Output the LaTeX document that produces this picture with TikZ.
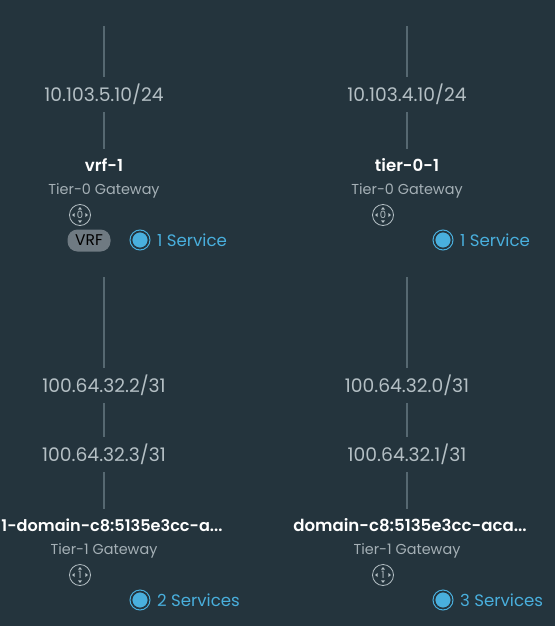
\documentclass[tikz,border=0pt]{standalone}
\usepackage{fontspec}
\setmainfont{Poppins}[BoldFont={Poppins SemiBold}]
\definecolor{bgdark}{HTML}{24343D}
\definecolor{linegray}{HTML}{566871}
\definecolor{textgray}{HTML}{B4BFC4}
\definecolor{subgray}{HTML}{A5B0B6}
\definecolor{svcblue}{HTML}{49AFDD}
\definecolor{badgegray}{HTML}{6F7A82}
\tikzset{
    link/.style={draw=linegray, line width=1.5pt},
    ipnode/.style={inner sep=0pt, minimum height=35pt, text=textgray, font=\fontsize{18.7}{20}\selectfont},
    namenode/.style={inner sep=0pt, minimum height=32pt, text=white, font=\fontsize{16.6}{18}\selectfont\bfseries},
    typenode/.style={inner sep=0pt, text=subgray, font=\fontsize{14.4}{16}\selectfont},
    iconnode/.style={circle, draw=textgray, line width=0.8pt, minimum size=21pt, inner sep=0pt, text=textgray, font=\fontsize{10}{10}\selectfont},
    dotnode/.style={circle, fill=svcblue, draw=bgdark, line width=1.2pt, minimum size=16.5pt, inner sep=0pt},
    ringnode/.style={circle, draw=svcblue, line width=1pt, minimum size=20pt, inner sep=0pt},
    svcnode/.style={inner sep=0pt, anchor=west, text=svcblue, font=\fontsize{16.6}{18}\selectfont},
    badgenode/.style={rounded corners=10pt, fill=badgegray, text=black, minimum width=43pt, minimum height=22pt, inner sep=0pt, font=\fontsize{15.5}{16}\selectfont},
    tick/.style={fill=textgray, draw=none}
}
% small arrows round the gateway icon
\newcommand{\iconticks}[1]{
    \fill[tick] (#1.north)++(0,3) -- ++(-2,2.5) -- ++(4,0) -- cycle;
    \fill[tick] (#1.south)++(0,-3) -- ++(-2,-2.5) -- ++(4,0) -- cycle;
    \fill[tick] (#1.west)++(3,0) -- ++(2.5,-2) -- ++(0,4) -- cycle;
    \fill[tick] (#1.east)++(-3,0) -- ++(-2.5,-2) -- ++(0,4) -- cycle;
}
\begin{document}
\begin{tikzpicture}[x=1pt, y=-1pt]
    \useasboundingbox[fill=bgdark] (0,0) rectangle (555,626);

    % left column, upper gateway
    \coordinate (topa) at (104,26);
    \node[ipnode] (ipa) at (104,94.5) {10.103.5.10/24};
    \node[namenode] (vrf) at (104,165) {vrf-1};
    \node[typenode] (vrftype) at (104,191) {Tier-0 Gateway};
    \node[iconnode] (vrficon) at (80,215) {0};
    \iconticks{vrficon}
    \node[badgenode] (vrfbadge) at (89,240.5) {VRF};
    \node[ringnode] (vrfring) at (140,240) {};
    \node[dotnode] (vrfdot) at (140,240) {};
    \node[svcnode] (vrfsvc) at (157,240.5) {1 Service};

    % right column, upper gateway
    \coordinate (topb) at (407,26);
    \node[ipnode] (ipb) at (407,94.5) {10.103.4.10/24};
    \node[namenode] (tier) at (407,165) {tier-0-1};
    \node[typenode] (tiertype) at (407,191) {Tier-0 Gateway};
    \node[iconnode] (tiericon) at (383,215) {0};
    \iconticks{tiericon}
    \node[ringnode] (tierring) at (443,240) {};
    \node[dotnode] (tierdot) at (443,240) {};
    \node[svcnode] (tiersvc) at (460,240.5) {1 Service};

    % left column, lower gateway
    \coordinate (mida) at (104,277);
    \node[ipnode] (ipc) at (104,385.5) {100.64.32.2/31};
    \node[ipnode] (ipd) at (104,454.5) {100.64.32.3/31};
    \node[namenode, font=\fontsize{16.1}{18}\selectfont\bfseries] (doma) at (112,525) {1-domain-c8:5135e3cc-a...};
    \node[typenode] (domatype) at (104,551) {Tier-1 Gateway};
    \node[iconnode] (domaicon) at (80,575) {1};
    \iconticks{domaicon}
    \node[ringnode] (domaring) at (140,600) {};
    \node[dotnode] (domadot) at (140,600) {};
    \node[svcnode] (domasvc) at (157,600.5) {2 Services};

    % right column, lower gateway
    \coordinate (midb) at (407,277);
    \node[ipnode] (ipe) at (407,385.5) {100.64.32.0/31};
    \node[ipnode] (ipf) at (407,454.5) {100.64.32.1/31};
    \node[namenode] (domb) at (410,525) {domain-c8:5135e3cc-aca...};
    \node[typenode] (dombtype) at (407,551) {Tier-1 Gateway};
    \node[iconnode] (dombicon) at (383,575) {1};
    \iconticks{dombicon}
    \node[ringnode] (dombring) at (443,600) {};
    \node[dotnode] (dombdot) at (443,600) {};
    \node[svcnode] (dombsvc) at (460,600.5) {3 Services};

    % connectors
    \draw[link] (topa) -- (ipa);
    \draw[link] (ipa) -- (vrf);
    \draw[link] (topb) -- (ipb);
    \draw[link] (ipb) -- (tier);
    \draw[link] (mida) -- (ipc);
    \draw[link] (ipc) -- (ipd);
    \draw[link] (ipd) -- (doma.north -| ipd);
    \draw[link] (midb) -- (ipe);
    \draw[link] (ipe) -- (ipf);
    \draw[link] (ipf) -- (domb.north -| ipf);
\end{tikzpicture}
\end{document}
